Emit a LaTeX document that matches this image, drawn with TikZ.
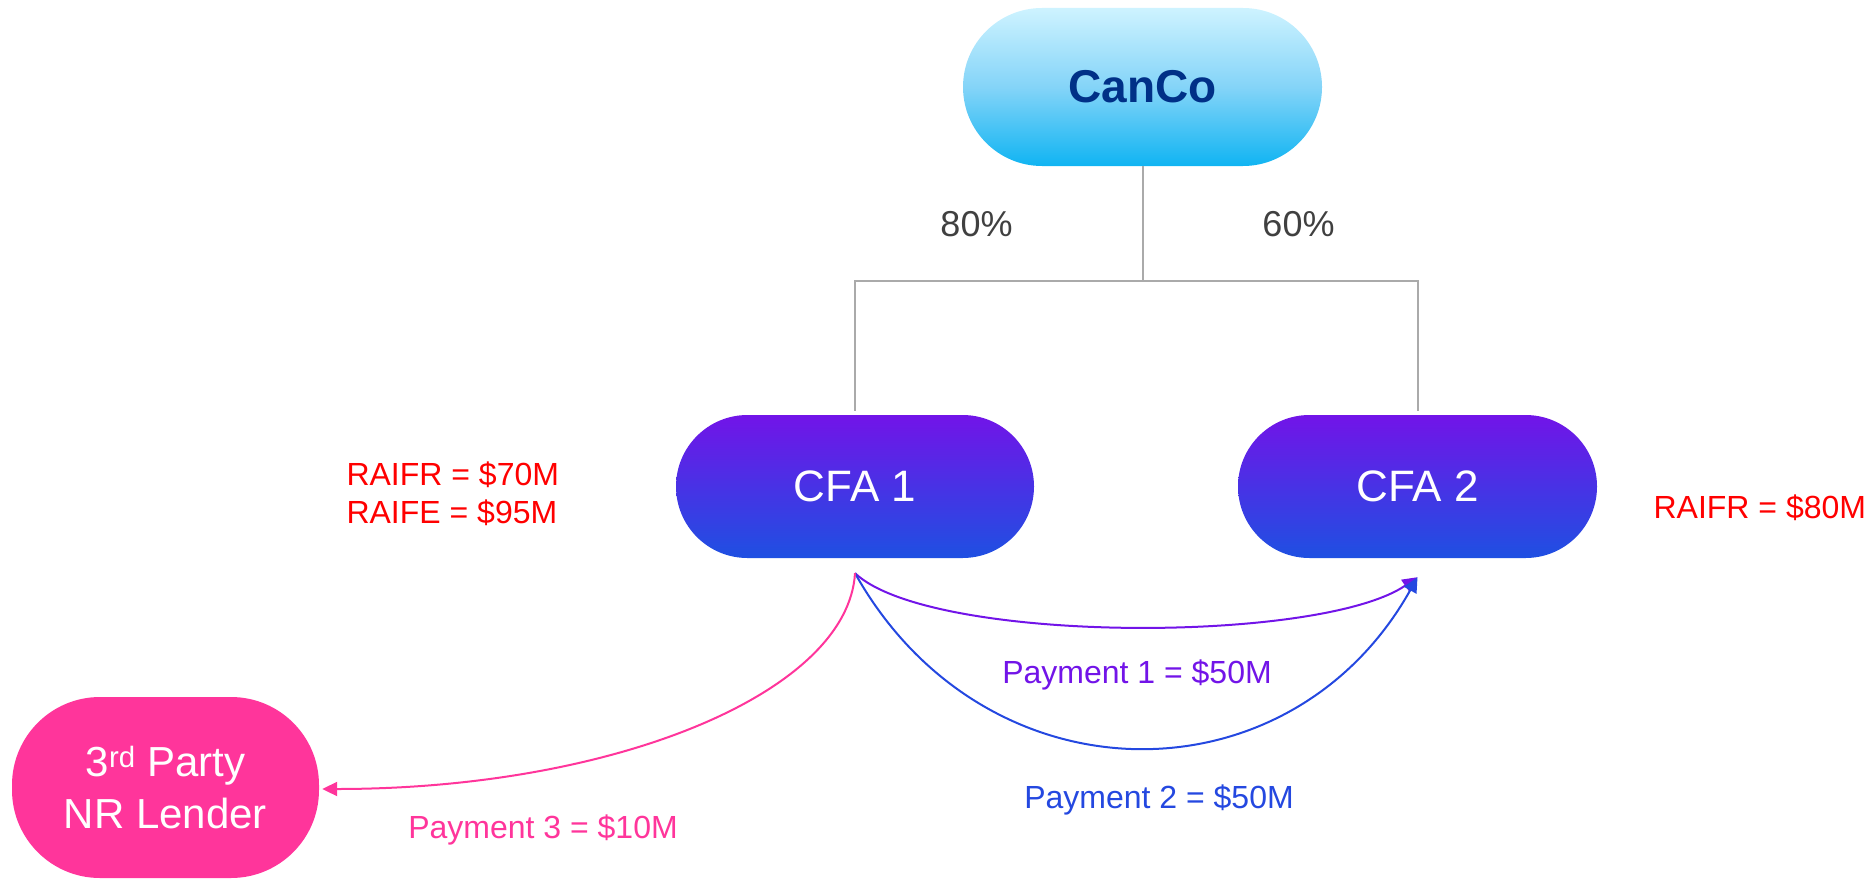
\documentclass[tikz,border=0pt]{standalone}
\usepackage{fontspec}
\setmainfont{Liberation Sans}
\usetikzlibrary{arrows.meta}

\definecolor{canTop}{RGB}{206,243,255}
\definecolor{canMid}{RGB}{132,212,248}
\definecolor{canBot}{RGB}{16,180,242}
\definecolor{canText}{RGB}{0,48,135}
\definecolor{cfaTop}{RGB}{114,20,232}
\definecolor{cfaBot}{RGB}{30,80,226}
\definecolor{payPurple}{RGB}{114,20,232}
\definecolor{payBlue}{RGB}{36,72,224}
\definecolor{payPink}{RGB}{255,53,155}
\definecolor{treeGray}{RGB}{170,170,170}
\definecolor{pctGray}{RGB}{64,64,64}
\definecolor{noteRed}{RGB}{255,0,0}

\tikzset{
  pill/.style={rectangle, inner sep=0pt, draw=none},
  canbox/.style={pill, minimum width=359pt, minimum height=158pt,
    rounded corners=79pt, top color=canTop, bottom color=canBot, middle color=canMid,
    text=canText, font=\fontsize{46}{55}\selectfont\bfseries},
  cfabox/.style={pill, minimum width=358pt, minimum height=143pt,
    rounded corners=71.5pt, top color=cfaTop, bottom color=cfaBot,
    text=white, font=\fontsize{44}{53}\selectfont},
  lenderbox/.style={pill, minimum width=307pt, minimum height=181pt,
    rounded corners=88pt, fill=payPink, text=white, align=center,
    font=\fontsize{42}{52}\selectfont},
  treeline/.style={draw=treeGray, line width=2pt},
  pct/.style={anchor=base, text=pctGray, font=\fontsize{36}{43}\selectfont},
  note/.style={anchor=base west, text=noteRed, font=\fontsize{32}{38}\selectfont},
  paylabel/.style={anchor=base, font=\fontsize{32}{38}\selectfont},
  payarrow/.style={line width=2pt, -{Triangle[length=15pt,width=14pt]}},
}

\begin{document}
\begin{tikzpicture}[x=1pt,y=-1pt]
  \useasboundingbox (0,0) rectangle (1867,880);

  % entities
  \node[canbox] (canco) at (1142.5,87) {CanCo};
  \node[cfabox] (cfa1) at (855,486.5) {CFA 1};
  \node[cfabox, minimum width=359pt] (cfa2) at (1417.5,486.5) {CFA 2};
  \node[lenderbox] (lender) at (165.5,787.5) {3\textsuperscript{rd} Party\\NR Lender};

  % ownership tree
  \coordinate (junction) at (1142.5,281);
  \draw[treeline] (canco.south) -- (junction);
  \draw[treeline] ([yshift=4pt]cfa1.north) |- (junction) -| ([yshift=4pt]cfa2.north);

  \node[pct] (p80) at (976.5,236) {80\%};
  \node[pct] (p60) at (1298.5,236) {60\%};

  % attribute notes
  \node[note] (raif1) at (343,485) {RAIFR = \$70M};
  \node[note] (raif2) at (343,523) {RAIFE = \$95M};
  \node[note] (raif3) at (1650,518) {RAIFR = \$80M};

  % payment flows
  \coordinate (src) at ([yshift=-15pt]cfa1.south);
  \coordinate (dst) at ([yshift=-19pt]cfa2.south);
  \coordinate (lend) at ([xshift=3pt,yshift=-1.5pt]lender.east);

  \draw[payarrow, draw=payPurple]
    (src) .. controls (930,644) and (1320,644) .. (dst);
  \draw[payarrow, draw=payBlue]
    (src) .. controls (985,805) and (1290,805) .. (dst);
  \draw[payarrow, draw=payPink]
    (src) .. controls (848,692) and (616,789) .. (lend);

  \node[paylabel, text=payPurple] (pay1) at (1137,683) {Payment 1 = \$50M};
  \node[paylabel, text=payBlue] (pay2) at (1159,808) {Payment 2 = \$50M};
  \node[paylabel, text=payPink] (pay3) at (543,838) {Payment 3 = \$10M};
\end{tikzpicture}
\end{document}
